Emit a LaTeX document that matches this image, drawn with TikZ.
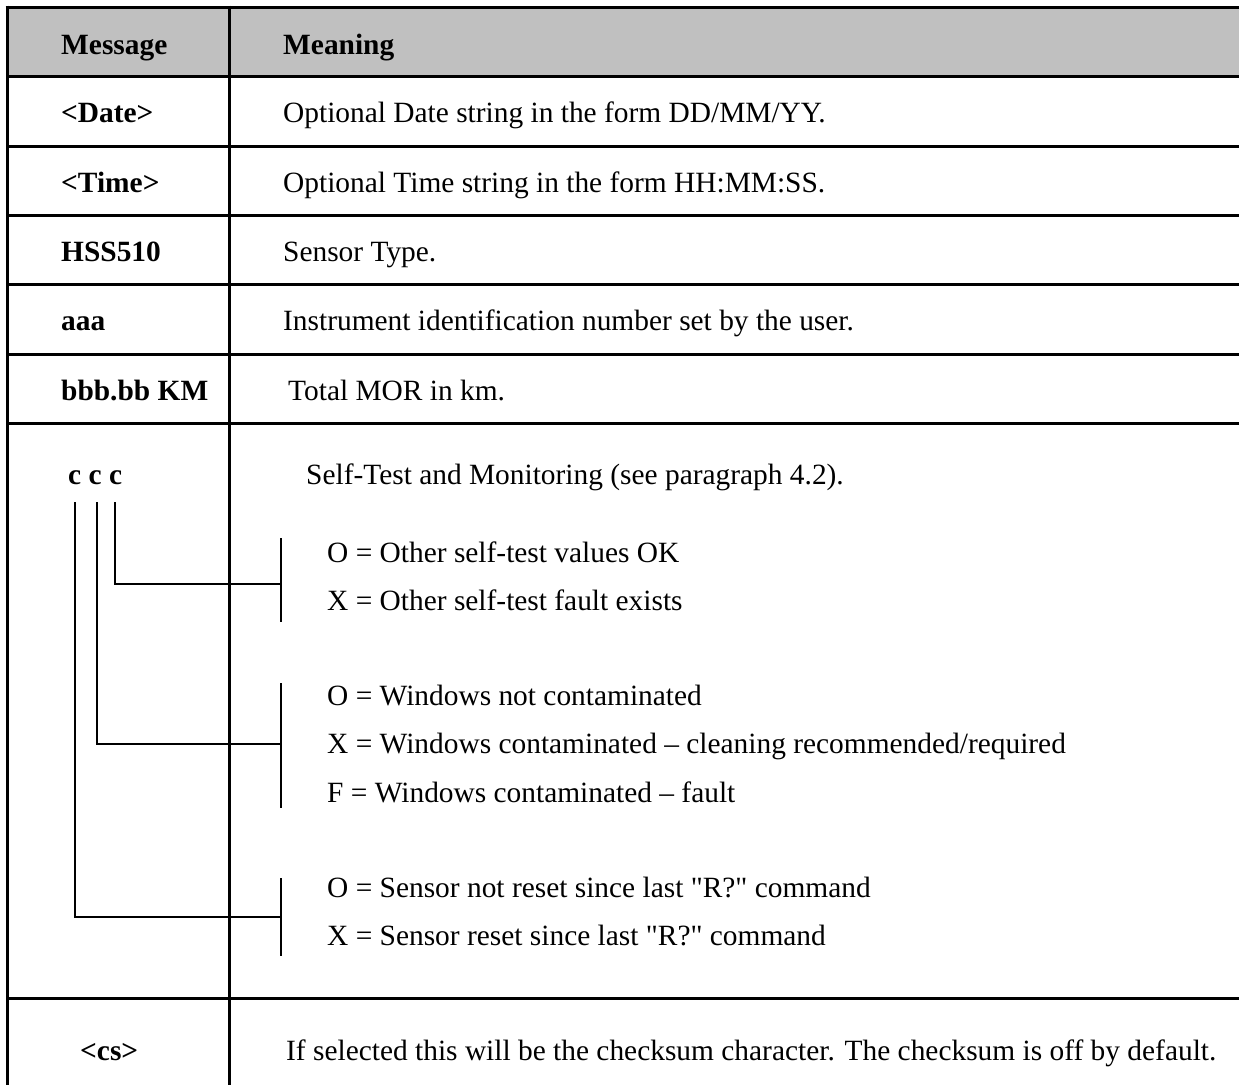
\documentclass[tikz,border=0pt]{standalone}
\usepackage{fontspec}
\setmainfont{Liberation Serif}[Ligatures=TeXOff]
\definecolor{hdrgray}{RGB}{192,192,192}
\begin{document}
\begin{tikzpicture}[x=1pt,y=-1pt,
  gridline/.style={line width=3pt},
  conn/.style={line width=2pt},
  txt/.style={anchor=base west,inner sep=0pt,font=\fontsize{29.4}{35}\selectfont},
  bold/.style={anchor=base west,inner sep=0pt,font=\fontsize{29.4}{35}\selectfont\bfseries}]
\useasboundingbox (0,0) rectangle (1239,1085);
% header background
\fill[hdrgray] (7,7) rectangle (1239,76);
% table grid
\draw[gridline] (5.5,7) -- (1239,7);
\foreach \yy in {76,146,215,284,354,423,998}
  \draw[gridline] (7,\yy) -- (1239,\yy);
\draw[gridline] (7,5.5) -- (7,1085);
\draw[gridline] (229,5.5) -- (229,1085);
% header
\node[bold] (hmsg) at (61,54) {Message};
\node[bold] (hmean) at (283,54) {Meaning};
% rows
\node[bold] (mdate) at (61,122) {<Date>};
\node[txt] (tdate) at (283,122) {Optional Date string in the form DD/MM/YY.};
\node[bold] (mtime) at (61,192) {<Time>};
\node[txt] (ttime) at (283,192) {Optional Time string in the form HH:MM:SS.};
\node[bold] (mhss) at (61,261) {HSS510};
\node[txt] (thss) at (283,261) {Sensor Type.};
\node[bold] (maaa) at (61,330) {aaa};
\node[txt] (taaa) at (283,330) {Instrument identification number set by the user.};
\node[bold] (mbbb) at (61,400) {bbb.bb KM};
\node[txt] (tbbb) at (288,400) {Total MOR in km.};
\node[bold] (mccc) at (68,484) {c c c};
\node[txt] (tccc) at (306,484) {Self-Test and Monitoring (see paragraph 4.2).};
\node[txt] (o1) at (327,562) {O = Other self-test values OK};
\node[txt] (x1) at (327,610) {X = Other self-test fault exists};
\node[txt] (o2) at (327,705) {O = Windows not contaminated};
\node[txt] (x2) at (327,753) {X = Windows contaminated – cleaning recommended/required};
\node[txt] (f2) at (327,802) {F = Windows contaminated – fault};
\node[txt] (o3) at (327,897) {O = Sensor not reset since last "R?" command};
\node[txt] (x3) at (327,945) {X = Sensor reset since last "R?" command};
\node[bold] (mcs) at (80,1060) {<cs>};
\node[txt] (tcs) at (286,1060) {If selected this will be the checksum character. The checksum is off by default.};
% connector coordinates
\coordinate (ca) at (75,502);
\coordinate (cb) at (97,502);
\coordinate (cc) at (115,502);
\coordinate (b1t) at (281,538);
\coordinate (b1b) at (281,622);
\coordinate (b1m) at (281,584);
\coordinate (b2t) at (281,683);
\coordinate (b2b) at (281,808);
\coordinate (b2m) at (281,744);
\coordinate (b3t) at (281,878);
\coordinate (b3b) at (281,956);
\coordinate (b3m) at (281,917);
% brackets
\draw[conn] (b1t) -- (b1b);
\draw[conn] (b2t) -- (b2b);
\draw[conn] (b3t) -- (b3b);
% connectors
\draw[conn] (cc) |- (b1m);
\draw[conn] (cb) |- (b2m);
\draw[conn] (ca) |- (b3m);
\end{tikzpicture}
\end{document}
